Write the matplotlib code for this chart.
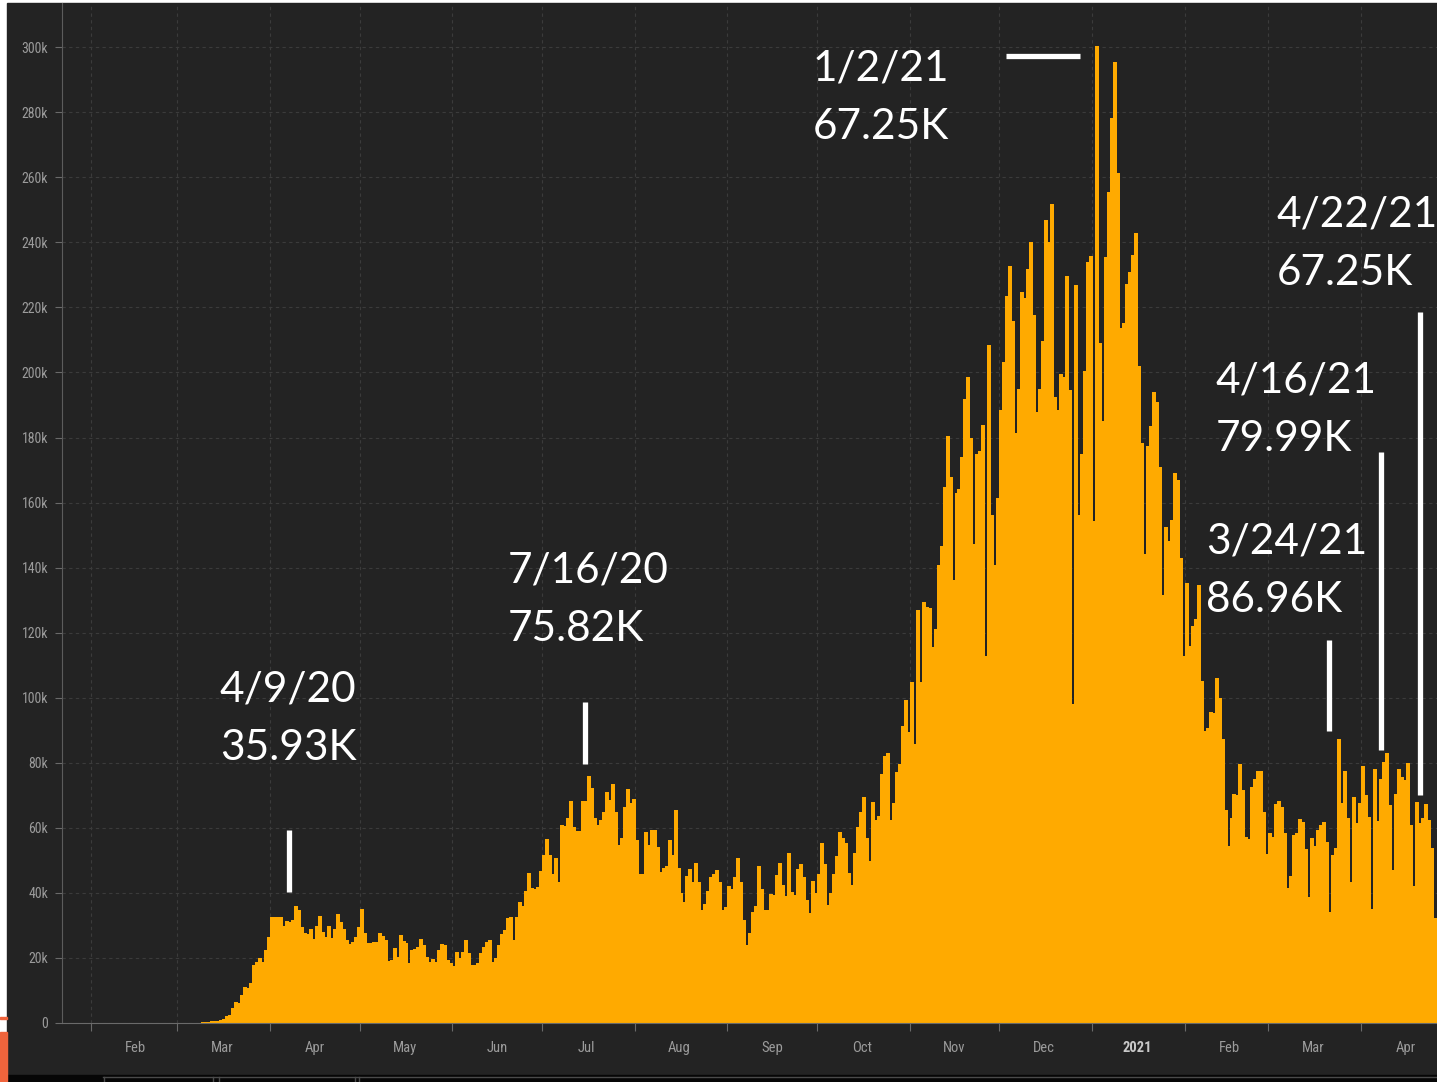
import numpy as np
import pandas as pd
import matplotlib
matplotlib.use('Agg')
import matplotlib.pyplot as plt
import matplotlib.dates as mdates
from matplotlib import font_manager
from matplotlib.patches import Rectangle
from matplotlib.lines import Line2D

# daily new cases in thousands, one list per month
jan20 = [0.001, 0, 0.001, 0, 0.003, 0, 0, 0, 0, 0.002]
feb20 = [0.001, 0, 0.003, 0, 0, 0, 0, 0, 0, 0.001, 0, 0.001, 0, 0.001, 0,
         0, 0, 0, 0, 0, 0.002, 0, 0, 0, 0.003, 0, 0.003, 0.001, 0.004]
mar20 = [0.01, 0.03, 0.03, 0.03, 0.07, 0.06, 0.1, 0.12, 0.18, 0.29, 0.4, 0.5,
         0.5, 0.5, 0.9, 1.1, 2.0, 2.5, 4.5, 6.6, 6.2, 8.6, 11.2, 10.9, 12.2,
         17.8, 18.9, 19.9, 18.9, 22.4, 26.3]
apr20 = [32.5, 32.5, 32.5, 32.5, 29.9, 31.5, 31.1, 31.7, 36.0, 34.7, 29.6,
         27.8, 27.3, 29.0, 25.7, 29.8, 33.0, 28.1, 26.5, 29.9, 26.1, 29.0,
         33.5, 31.1, 29.0, 25.5, 24.2, 25.0, 26.5, 29.6]
may20 = [35.0, 27.6, 24.5, 24.5, 24.9, 24.9, 27.6, 26.8, 25.5, 19.0, 19.4,
         23.0, 20.4, 27.0, 25.3, 24.5, 18.5, 22.4, 22.7, 23.3, 25.9, 24.0,
         20.4, 18.9, 19.6, 18.9, 22.4, 24.3, 23.9, 19.4, 18.5]
jun20 = [17.5, 21.7, 20.0, 21.7, 25.4, 21.4, 17.8, 17.8, 18.3, 21.4, 23.5,
         24.8, 25.4, 18.9, 19.9, 24.0, 27.4, 28.6, 32.2, 32.5, 25.5, 32.7,
         37.1, 36.1, 40.7, 46.1, 41.6, 41.3, 41.7, 46.6]
jul20 = [51.8, 56.7, 51.8, 45.9, 50.6, 43.2, 60.8, 60.6, 63.0, 68.3, 60.4,
         58.9, 58.9, 68.4, 68.4, 75.9, 72.4, 62.9, 61.0, 62.4, 64.9, 70.9,
         68.6, 73.4, 64.9, 54.8, 56.8, 66.4, 71.9, 67.5, 68.9]
aug20 = [56.3, 45.8, 45.8, 58.8, 54.8, 59.3, 59.3, 54.2, 46.3, 47.8, 48.3,
         56.2, 51.7, 65.4, 47.8, 39.9, 37.3, 45.2, 47.5, 43.4, 49.2, 43.2,
         34.7, 36.6, 40.7, 45.0, 45.8, 47.0, 43.2, 34.7, 35.6]
sep20 = [42.1, 41.3, 44.8, 50.7, 43.2, 31.6, 24.0, 27.6, 34.2, 36.1, 48.2,
         41.3, 34.7, 34.7, 39.7, 39.3, 45.4, 49.3, 42.3, 38.9, 52.3, 40.2,
         39.3, 47.3, 48.8, 44.8, 37.7, 33.9, 43.6, 40.0]
oct20 = [45.8, 55.3, 48.8, 36.3, 40.0, 45.8, 51.3, 58.8, 56.9, 55.3, 46.2,
         42.3, 52.3, 60.2, 64.9, 69.5, 57.0, 49.9, 67.8, 62.5, 63.5, 76.6,
         82.2, 83.1, 62.5, 67.5, 77.2, 79.7, 91.2, 99.2, 89.6]
nov20 = [104.7, 85.7, 127.0, 104.9, 129.5, 128.0, 127.6, 115.5, 121.1, 140.7,
         146.7, 164.9, 180.5, 167.9, 136.1, 163.0, 164.1, 173.9, 192.0, 198.6,
         179.9, 147.2, 174.8, 175.8, 183.8, 112.9, 208.6, 156.2, 140.7, 161.3]
dec20 = [188.4, 203.1, 223.6, 232.8, 215.7, 181.4, 195.0, 224.6, 223.0, 231.9,
         240.2, 217.8, 188.0, 195.0, 209.7, 246.9, 240.0, 251.9, 192.5, 188.4,
         199.4, 198.6, 229.8, 194.6, 98.2, 226.8, 156.2, 175.0, 200.5, 233.9,
         235.8]
jan21 = [154.4, 300.4, 209.2, 185.0, 235.4, 255.6, 278.3, 295.5, 261.2, 213.8,
         215.1, 227.3, 230.9, 236.0, 243.0, 202.0, 178.4, 144.1, 177.3, 183.5,
         193.9, 191.0, 170.9, 131.5, 152.6, 148.1, 154.7, 169.2, 166.8, 143.0,
         112.9]
feb21 = [135.2, 116.0, 122.2, 124.3, 134.8, 105.0, 89.9, 90.6, 95.7, 95.4,
         106.0, 99.8, 87.2, 65.5, 54.4, 62.9, 70.4, 70.1, 79.6, 71.6, 57.3,
         56.5, 72.7, 74.9, 77.6, 77.6, 65.0, 52.0]
mar21 = [58.3, 57.3, 67.3, 68.3, 66.5, 58.5, 41.4, 45.3, 57.8, 58.3, 62.7,
         61.9, 53.4, 38.8, 56.8, 54.4, 59.3, 60.9, 61.9, 55.7, 34.2, 51.8,
         53.7, 87.2, 67.5, 77.5, 62.9, 43.2, 69.5, 61.6, 67.5]
apr21 = [79.0, 70.0, 63.4, 35.2, 78.1, 62.1, 75.0, 80.1, 83.1, 67.0, 47.0,
         70.5, 78.0, 75.7, 74.7, 80.0, 60.9, 42.2, 67.8, 61.6, 62.9, 67.3,
         62.4, 53.7, 32.2]

cases_k = np.array(jan20 + feb20 + mar20 + apr20 + may20 + jun20 + jul20 + aug20
                   + sep20 + oct20 + nov20 + dec20 + jan21 + feb21 + mar21 + apr21)
days = pd.date_range('2020-01-22', periods=len(cases_k), freq='D')

y_ticks = list(range(0, 301, 20))
y_labels = ['0' if v == 0 else f'{v}k' for v in y_ticks]
month_labels = ['Feb', 'Mar', 'Apr', 'May', 'Jun', 'Jul', 'Aug', 'Sep', 'Oct',
                'Nov', 'Dec', '2021', 'Feb', 'Mar', 'Apr']

# callouts: date label, value label, text anchor, marker line
ann_date = ['4/9/20', '7/16/20', '1/2/21', '4/22/21', '4/16/21', '3/24/21']
ann_value = ['35.93K', '75.82K', '67.25K', '67.25K', '79.99K', '86.96K']
ann_x = ['2020-03-15 06:00', '2020-06-19 14:00', '2020-09-29 14:00',
         '2021-03-03 20:00', '2021-02-11 10:00', '2021-02-08 02:00']
ann_y = [98.8, 135.3, 289.8, 244.8, 193.8, 144.3]
mark_x0 = ['2020-04-07 09:00', '2020-07-15 10:00', '2020-12-03 05:00',
           '2021-04-20 17:00', '2021-04-07 16:00', '2021-03-21 06:00']
mark_x1 = ['2020-04-07 09:00', '2020-07-15 10:00', '2020-12-28 00:00',
           '2021-04-20 17:00', '2021-04-07 16:00', '2021-03-21 06:00']
mark_y0 = [40.3, 79.6, 297.3, 70.1, 83.9, 89.8]
mark_y1 = [59.3, 98.7, 297.3, 218.6, 175.5, 117.7]

names = {f.name for f in font_manager.fontManager.ttflist}
tick_font = 'Roboto'
for cand in ['Roboto Condensed', 'Liberation Sans Narrow']:
    if cand in names:
        tick_font = cand
        break
note_font = 'Lato' if 'Lato' in names else 'DejaVu Sans'

W, H = 1437, 1082
fig = plt.figure(figsize=(W / 100, H / 100), dpi=100, facecolor='white')


def fx(px):
    return px / W


def fy(py):
    return 1 - py / H


# screenshot frame around the chart (drawn behind the axes)
frame = [
    ((fx(7), fy(1075)), 1 - fx(7), fy(3) - fy(1075), '#232323'),
    ((fx(7), 0), 1 - fx(7), fy(1075), '#060606'),
    ((0, 0), fx(7), fy(1032), '#f0643c'),
    ((0, fy(1019)), fx(7), fy(1017) - fy(1019), '#f0643c'),
]
for xy, w, h, c in frame:
    fig.patches.append(Rectangle(xy, w, h, transform=fig.transFigure, color=c, zorder=-10))
fig.lines.append(Line2D([fx(103), 1], [fy(1076.5), fy(1076.5)], transform=fig.transFigure,
                        color='#4a4a4a', linewidth=1, zorder=-5))
for px in [104, 213, 219, 355, 359]:
    fig.lines.append(Line2D([fx(px), fx(px)], [0, fy(1076.5)], transform=fig.transFigure,
                            color='#4a4a4a', linewidth=1, zorder=-5))

ax = fig.add_axes([fx(62), fy(1023), 1 - fx(62), fy(3) - fy(1023)])
ax.set_facecolor('none')

x = mdates.date2num(days)
ax.bar(x, cases_k, width=1.0, align='edge', color='#ffaa00',
       edgecolor='#ffaa00', linewidth=0.5, antialiased=False, zorder=2)

ax.set_xlim(mdates.date2num(pd.Timestamp('2020-01-22 10:00')),
            mdates.date2num(pd.Timestamp('2021-04-26 10:00')))
ax.set_ylim(0, 313.6)

ax.set_yticks(y_ticks, labels=y_labels)
ax.xaxis.set_major_locator(mdates.MonthLocator())
ax.xaxis.set_major_formatter(plt.NullFormatter())
label_pos = mdates.date2num(pd.date_range('2020-02-01', periods=len(month_labels), freq='MS')
                            + pd.Timedelta(days=15))
ax.set_xticks(label_pos, labels=month_labels, minor=True)

ax.grid(True, which='major', color='#3b3b3b', linestyle=(0, (3, 3)), linewidth=0.8)
ax.set_axisbelow(True)

ax.tick_params(axis='y', which='major', length=5, width=0.8, color='#6a6a6a',
               labelcolor='#9b9b9b', labelsize=10, pad=5)
ax.tick_params(axis='x', which='major', length=6, width=0.8, color='#6a6a6a')
ax.tick_params(axis='x', which='minor', length=0, labelcolor='#9b9b9b',
               labelsize=10.5, pad=13)
for lbl in ax.get_yticklabels() + ax.get_xticklabels(minor=True):
    lbl.set_fontfamily(tick_font)
for lbl in ax.get_xticklabels(minor=True):
    if lbl.get_text() == '2021':
        lbl.set_fontweight('bold')
        lbl.set_color('#c8c8c8')

for s in ['top', 'right']:
    ax.spines[s].set_visible(False)
ax.spines['left'].set_color('#5c5c5c')
ax.spines['bottom'].set_color('#6a6a6a')

# callout text and white marker lines
for d, v, tx, ty, x0, x1, y0, y1 in zip(ann_date, ann_value, ann_x, ann_y,
                                        mark_x0, mark_x1, mark_y0, mark_y1):
    tx_num = mdates.date2num(pd.Timestamp(tx))
    ax.text(tx_num, ty, d, color='white', fontsize=30.5, family=note_font,
            ha='left', va='baseline', zorder=5, clip_on=False)
    ax.text(tx_num, ty - 17.9, v, color='white', fontsize=30.5, family=note_font,
            ha='left', va='baseline', zorder=5, clip_on=False)
    ax.plot([mdates.date2num(pd.Timestamp(x0)), mdates.date2num(pd.Timestamp(x1))],
            [y0, y1], color='white', linewidth=3.8, solid_capstyle='butt',
            zorder=5, clip_on=False)

fig.savefig('out.png', dpi=100, facecolor=fig.get_facecolor())
